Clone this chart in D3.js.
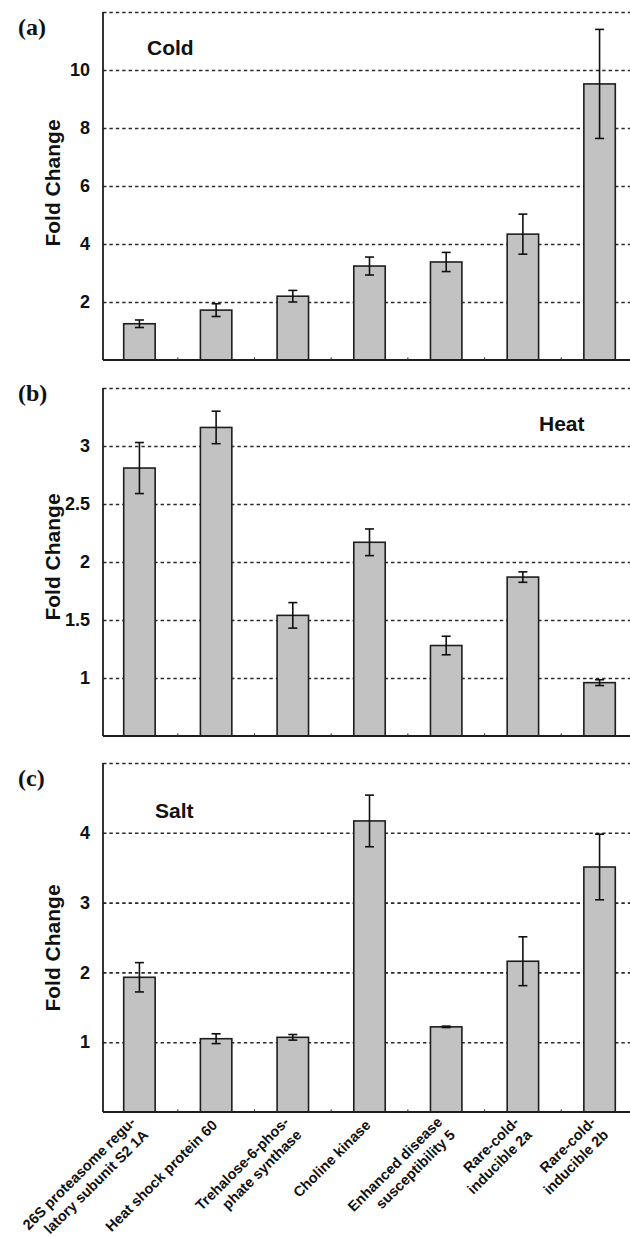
<!DOCTYPE html>
<html>
<head>
<meta charset="utf-8">
<script src="https://cdn.jsdelivr.net/npm/d3@7"></script>
<style>
  html, body { margin: 0; padding: 0; background: #fff; }
  svg { display: block; }
</style>
</head>
<body>
<svg id="chart" width="630" height="1237"></svg>
<script>
// ---------- DATA ----------
const categories = ["26S proteasome", "Heat shock protein 60", "Trehalose-6-phosphate synthase",
  "Choline kinase", "Enhanced disease susceptibility 5", "Rare-cold-inducible 2a", "Rare-cold-inducible 2b"];
const categoryLabelLines = [
  ["26S proteasome regu-", "latory subunit S2 1A"],
  ["Heat shock protein 60"],
  ["Trehalose-6-phos-", "phate synthase"],
  ["Choline kinase"],
  ["Enhanced disease", "susceptibility 5"],
  ["Rare-cold-", "inducible 2a"],
  ["Rare-cold-", "inducible 2b"]
];
const coldValues = [1.25, 1.72, 2.20, 3.24, 3.38, 4.34, 9.52];
const coldErrors = [0.13, 0.22, 0.20, 0.31, 0.33, 0.69, 1.88];
const heatValues = [2.81, 3.16, 1.54, 2.17, 1.28, 1.87, 0.96];
const heatErrors = [0.22, 0.14, 0.11, 0.115, 0.08, 0.045, 0.025];
const saltValues = [1.93, 1.05, 1.07, 4.17, 1.22, 2.16, 3.51];
const saltErrors = [0.21, 0.07, 0.04, 0.37, 0.01, 0.35, 0.47];

const coldTicks = [2, 4, 6, 8, 10];
const coldGrid = [2, 4, 6, 8, 10, 12];
const heatTicks = [1, 1.5, 2, 2.5, 3];
const heatGrid = [1, 1.5, 2, 2.5, 3, 3.5];
const saltTicks = [1, 2, 3, 4];
const saltGrid = [1, 2, 3, 4, 5];

const panelLetters = ["(a)", "(b)", "(c)"];
const panelTitles = ["Cold", "Heat", "Salt"];
const yTitle = "Fold Change";

// ---------- LAYOUT ----------
const svg = d3.select("#chart");
const plotLeft = 103, plotRight = 636, svgRight = 630;
const sansFont = "'Liberation Sans', Arial, Helvetica, sans-serif";
const serifFont = "'Liberation Serif', 'Times New Roman', serif";

const x = d3.scaleBand().domain(categories).range([plotLeft, plotRight])
  .paddingInner(0.59).paddingOuter(0.27);

const panels = [
  { letter: panelLetters[0], title: panelTitles[0], values: coldValues, errors: coldErrors,
    domain: [0, 12], ticks: coldTicks, grid: coldGrid, top: 12, bottom: 360,
    letterPos: [18, 35], titlePos: [147, 55], yTitleY: 183 },
  { letter: panelLetters[1], title: panelTitles[1], values: heatValues, errors: heatErrors,
    domain: [0.5, 3.5], ticks: heatTicks, grid: heatGrid, top: 388, bottom: 736,
    letterPos: [18, 401], titlePos: [539, 431], yTitleY: 557 },
  { letter: panelLetters[2], title: panelTitles[2], values: saltValues, errors: saltErrors,
    domain: [0, 5], ticks: saltTicks, grid: saltGrid, top: 763, bottom: 1112,
    letterPos: [18, 786], titlePos: [155, 818], yTitleY: 948 }
];

panels.forEach((p, pi) => {
  const y = d3.scaleLinear().domain(p.domain).range([p.bottom, p.top]);
  const g = svg.append("g");

  // grid lines (dashed)
  const gridG = g.append("g")
    .attr("transform", `translate(${plotLeft},0)`)
    .call(d3.axisLeft(y).tickValues(p.grid).tickSize(-(svgRight - plotLeft)).tickFormat(""));
  gridG.select(".domain").remove();
  gridG.selectAll(".tick line")
    .attr("stroke", "#2a2a2a").attr("stroke-width", 1.6).attr("stroke-dasharray", "3.4,3");

  // tick labels
  const tickG = g.append("g")
    .attr("transform", `translate(${plotLeft},0)`)
    .call(d3.axisLeft(y).tickValues(p.ticks).tickSize(0).tickPadding(13).tickFormat(d => String(d)));
  tickG.select(".domain").remove();
  tickG.selectAll(".tick text")
    .attr("font-family", sansFont).attr("font-weight", "bold").attr("font-size", 18).attr("fill", "#111");

  // bars
  g.selectAll("rect.bar").data(p.values).join("rect")
    .attr("class", "bar")
    .attr("x", (d, i) => x(categories[i]))
    .attr("width", x.bandwidth())
    .attr("y", d => y(d))
    .attr("height", d => y(p.domain[0]) - y(d))
    .attr("fill", "#c2c2c2").attr("stroke", "#1e1e1e").attr("stroke-width", 1.6);

  // error bars
  const cap = 4.5;
  const eg = g.selectAll("g.err").data(p.values).join("g").attr("class", "err");
  eg.append("line")
    .attr("x1", (d, i) => x(categories[i]) + x.bandwidth() / 2)
    .attr("x2", (d, i) => x(categories[i]) + x.bandwidth() / 2)
    .attr("y1", (d, i) => y(d + p.errors[i]))
    .attr("y2", (d, i) => y(d - p.errors[i]));
  eg.append("line")
    .attr("x1", (d, i) => x(categories[i]) + x.bandwidth() / 2 - cap)
    .attr("x2", (d, i) => x(categories[i]) + x.bandwidth() / 2 + cap)
    .attr("y1", (d, i) => y(d + p.errors[i]))
    .attr("y2", (d, i) => y(d + p.errors[i]));
  eg.append("line")
    .attr("x1", (d, i) => x(categories[i]) + x.bandwidth() / 2 - cap)
    .attr("x2", (d, i) => x(categories[i]) + x.bandwidth() / 2 + cap)
    .attr("y1", (d, i) => y(d - p.errors[i]))
    .attr("y2", (d, i) => y(d - p.errors[i]));
  eg.selectAll("line").attr("stroke", "#111").attr("stroke-width", 1.6);

  // axes lines
  g.append("line").attr("x1", plotLeft).attr("x2", plotLeft)
    .attr("y1", p.top).attr("y2", p.bottom)
    .attr("stroke", "#1e1e1e").attr("stroke-width", 1.8);
  g.append("line").attr("x1", plotLeft).attr("x2", svgRight)
    .attr("y1", p.bottom).attr("y2", p.bottom)
    .attr("stroke", "#1e1e1e").attr("stroke-width", 1.8);

  // small boundary ticks on x axis
  const boundaries = categories.slice(1).map(c => x(c) - x.step() * x.paddingInner() / 2);
  g.selectAll("line.bt").data(boundaries).join("line").attr("class", "bt")
    .attr("x1", d => d).attr("x2", d => d)
    .attr("y1", p.bottom).attr("y2", p.bottom - 2.5)
    .attr("stroke", "#333").attr("stroke-width", 1.2);

  // panel letter
  g.append("text").attr("x", p.letterPos[0]).attr("y", p.letterPos[1])
    .attr("font-family", serifFont).attr("font-weight", "bold").attr("font-size", 24)
    .attr("fill", "#111").text(p.letter);

  // panel title
  g.append("text").attr("x", p.titlePos[0]).attr("y", p.titlePos[1])
    .attr("font-family", sansFont).attr("font-weight", "bold").attr("font-size", 21)
    .attr("fill", "#111").text(p.title);

  // y axis title
  g.append("text")
    .attr("transform", `translate(60,${p.yTitleY}) rotate(-90)`)
    .attr("text-anchor", "middle")
    .attr("font-family", sansFont).attr("font-weight", "bold").attr("font-size", 21)
    .attr("fill", "#111").text(yTitle);
});

// category labels below bottom panel
const last = panels[2];
const lab = svg.append("g").selectAll("text.cat").data(categoryLabelLines).join("text")
  .attr("class", "cat")
  .attr("transform", (lines, i) => {
    const cx = x(categories[i]) + x.bandwidth() / 2;
    const dx = lines.length === 1 ? 2 : -3;
    const dy = lines.length === 1 ? 14 : 11;
    return `translate(${cx + dx},${last.bottom + dy}) rotate(-45)`;
  })
  .attr("text-anchor", "end")
  .attr("font-family", sansFont).attr("font-weight", "bold").attr("font-size", 14.5)
  .attr("fill", "#111");
lab.selectAll("tspan").data(lines => lines).join("tspan")
  .attr("x", 0).attr("y", (d, j) => j * 18).text(d => d);
</script>
</body>
</html>
